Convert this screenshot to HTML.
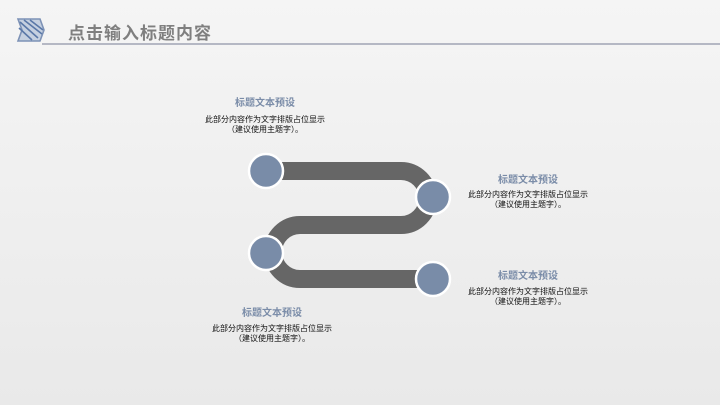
<!DOCTYPE html>
<html><head><meta charset="utf-8"><style>
body{margin:0;width:720px;height:405px;overflow:hidden;background:linear-gradient(180deg,#f5f5f5,#e9e9e9);font-family:"Liberation Sans","Noto Sans CJK SC",sans-serif;position:relative}
.t{position:absolute;font-size:17px;font-weight:bold;color:#7f7f7f;left:68px;top:19px;letter-spacing:1px}
.h{position:absolute;font-size:10px;font-weight:bold;color:#7a8ca8;width:160px;text-align:center}
.p{position:absolute;font-size:8px;color:#111;width:160px;text-align:center;line-height:10px}
</style></head><body>
<svg width="720" height="405" style="position:absolute;left:0;top:0">
<g stroke="#5a78a8" stroke-width="1.6" fill="none">
<path d="M18 19 L40 19 L44 30 L40 41 L18 41 L22 30 Z" fill="#c5d0e0" stroke="#7d92b6"/>
<path d="M20 22 L38 38 M24 20 L42 34 M19 28 L32 40 M30 20 L43 30"/>
</g>
<line x1="42" y1="44" x2="720" y2="44" stroke="#b5b8c4" stroke-width="2"/>
<path d="M266 171 H401 A27 27 0 0 1 401 225 H300 A27 27 0 0 0 300 279 H433" fill="none" stroke="#666" stroke-width="18"/>
<g fill="#798ca8" stroke="#fff" stroke-width="2.5">
<circle cx="266" cy="171" r="17"/>
<circle cx="433" cy="197" r="17"/>
<circle cx="266" cy="253" r="17"/>
<circle cx="433" cy="279" r="17"/>
</g>
</svg>
<div class="t">点击输入标题内容</div>
<div class="h" style="left:185px;top:94px">标题文本预设</div>
<div class="p" style="left:185px;top:115px">此部分内容作为文字排版占位显示<br>（建议使用主题字）。</div>
<div class="h" style="left:448px;top:171px">标题文本预设</div>
<div class="p" style="left:448px;top:190px">此部分内容作为文字排版占位显示<br>（建议使用主题字）。</div>
<div class="h" style="left:448px;top:267px">标题文本预设</div>
<div class="p" style="left:448px;top:287px">此部分内容作为文字排版占位显示<br>（建议使用主题字）。</div>
<div class="h" style="left:192px;top:304px">标题文本预设</div>
<div class="p" style="left:192px;top:324px">此部分内容作为文字排版占位显示<br>（建议使用主题字）。</div>
</body></html>
